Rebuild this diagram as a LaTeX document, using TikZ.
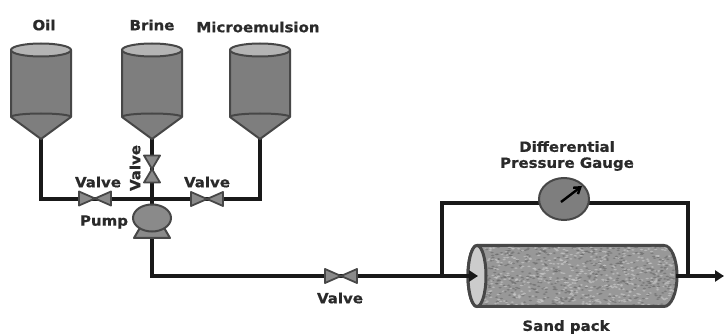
\documentclass[tikz,border=0pt]{standalone}
\usepackage{fontspec}
\setmainfont{DejaVu Sans}
\newfontfamily\labf{DejaVu Sans Bold}[FakeStretch=1.07,FakeBold=0.8]
\usetikzlibrary{shapes.geometric,arrows.meta}
\definecolor{edgec}{HTML}{474747}
\definecolor{bodyc}{HTML}{7E7E7E}
\definecolor{topc}{HTML}{B4B4B4}
\definecolor{valvec}{HTML}{8A8A8A}
\definecolor{txtc}{HTML}{2A2A2A}
\definecolor{sandc}{HTML}{989898}
\tikzset{
  lab/.style={font=\fontsize{14}{16}\selectfont\labf,text=txtc,inner sep=0pt,align=center},
  pipe/.style={line width=3.8pt,black!90},
  flow/.style={pipe,-{Triangle[length=9pt,width=11pt]}},
  shapeedge/.style={draw=edgec,line width=2pt,line join=round},
  tank/.pic={
    \draw[shapeedge,fill=bodyc] (-30,50) -- (-30,117) -- (0,139) -- (30,117) -- (30,50) -- cycle;
    \draw[shapeedge] (-30,117) arc[start angle=180,end angle=360,x radius=30,y radius=3.5];
    \draw[shapeedge,fill=topc] (0,50) ellipse[x radius=30,y radius=6.5];
  },
  valveh/.pic={
    \draw[edgec,line width=1.8pt,line join=round,fill=valvec] (-16,-7) -- (16,7) -- (16,-7) -- (-16,7) -- cycle;
  },
  valvev/.pic={
    \draw[edgec,line width=1.8pt,line join=round,fill=valvec] (-8,-13.5) -- (8,13.5) -- (-8,13.5) -- (8,-13.5) -- cycle;
  },
}
\begin{document}
\begin{tikzpicture}[x=1pt,y=-1pt]
\useasboundingbox[fill=white] (0,0) rectangle (724,334);
% anchors
\coordinate (oiltip) at (41,139);
\coordinate (brinetip) at (152,139);
\coordinate (microtip) at (260,139);
\coordinate (oilcorner) at (41,199);
\coordinate (microcorner) at (260,199);
\coordinate (pumpout) at (152,238);
\coordinate (lowcorner) at (152,276);
\coordinate (inlet) at (478,276);
\coordinate (branch) at (442,276);
\coordinate (branchtop) at (442,203);
\coordinate (outbranch) at (688,276);
\coordinate (outbranchtop) at (688,203);
\coordinate (packout) at (676,276);
\coordinate (outlet) at (724,276);
\coordinate (valveL) at (95,198.5);
\coordinate (valveR) at (207,199);
\coordinate (valveT) at (152,169);
\coordinate (valveB) at (341,276);
% gauge and pump nodes
\node[ellipse,minimum width=50pt,minimum height=42pt,inner sep=0pt] (gauge) at (564,199) {};
\node[ellipse,minimum width=38pt,minimum height=27pt,inner sep=0pt] (pump) at (152,218) {};
% pipes
\draw[pipe,line join=miter] (oiltip) -- (oilcorner) -- (microcorner) -- (microtip);
\draw[pipe] (brinetip) -- (pump);
\draw[pipe,line join=miter] (pumpout) -- (lowcorner) -- (branch);
\draw[pipe,line join=miter] (branch) -- (branchtop) -- (branchtop -| gauge.west);
\draw[pipe,line join=miter] (outbranch) -- (outbranchtop) -- (outbranchtop -| gauge.east);
% sand pack
\begin{scope}
\draw[edgec,line width=3pt,fill=sandc]
  (477,245.5) -- (664,245.5) arc[start angle=-90,end angle=90,x radius=13,y radius=30.5] -- (477,306.5) arc[start angle=90,end angle=270,x radius=9,y radius=30.5] -- cycle;
\clip (477,247) -- (664,247) arc[start angle=-90,end angle=90,x radius=11.5,y radius=29] -- (477,305) -- cycle;
\pgfmathsetseed{4217}
\foreach \i in {1,...,1100}{
  \pgfmathsetmacro{\px}{470+rnd*210}
  \pgfmathsetmacro{\py}{246+rnd*60}
  \pgfmathsetmacro{\sh}{rnd*100<50?50:100}
  \ifdim\sh pt<60pt
    \fill[black!60,opacity=.6] (\px,\py) ellipse[x radius=1.8,y radius=.8];
  \else
    \fill[black!22,opacity=.7] (\px,\py) ellipse[x radius=1.8,y radius=.8];
  \fi
}
\end{scope}
\draw[edgec,line width=3pt,fill=black!20] (477,276) ellipse[x radius=9,y radius=30.5];
\draw[flow] (branch) -- (inlet);
\draw[flow] (packout) -- (outlet);
% tanks
\path (41,0) pic {tank};
\path (152,0) pic {tank};
\path (260,0) pic {tank};
% valves
\path (valveL) pic {valveh};
\path (valveR) pic {valveh};
\path (valveB) pic {valveh};
\path (valveT) pic {valvev};
% pump
\draw[shapeedge,fill=valvec] (134,238) -- (141,226) -- (163,226) -- (170,238) -- cycle;
\node[ellipse,draw=edgec,line width=2pt,fill=valvec,minimum width=38pt,minimum height=27pt,inner sep=0pt] at (pump) {};
% gauge
\node[ellipse,draw=edgec,line width=2pt,fill=bodyc,minimum width=50pt,minimum height=42pt,inner sep=0pt] at (gauge) {};
\coordinate (needleA) at (561,202);
\coordinate (needleB) at (582,186);
\draw[black,line width=2.4pt,-{Straight Barb[length=6pt,width=8pt]}] (needleA) -- (needleB);
% labels
\node[lab] (loil) at (44,25) {Oil};
\node[lab] (lbrine) at (152,25) {Brine};
\node[lab] (lmicro) at (258,27) {Microemulsion};
\node[lab] (lv1) at (98,182) {Valve};
\node[lab] (lv2) at (207,182) {Valve};
\node[lab,rotate=90] (lv3) at (135,168) {Valve};
\node[lab] (lpump) at (104,222) {Pump};
\node[lab] (lv4) at (340,298) {Valve};
\node[lab] (lgauge) at (567,156) {Differential\\Pressure Gauge};
\node[lab] (lsand) at (566,327) {Sand pack};
\end{tikzpicture}
\end{document}
